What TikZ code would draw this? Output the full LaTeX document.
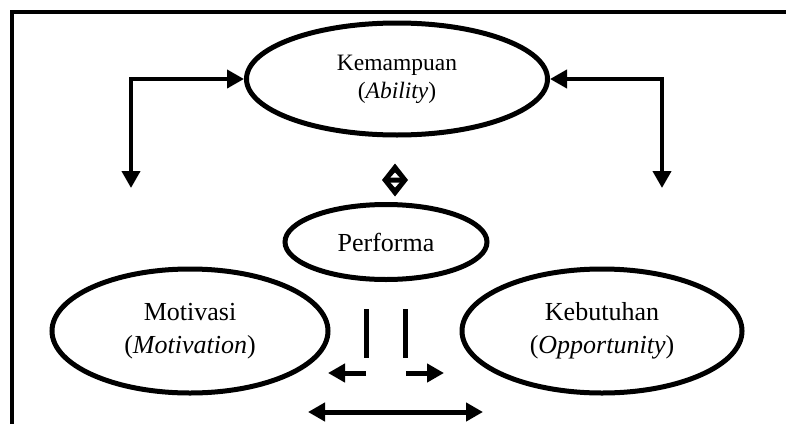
\documentclass[tikz,border=0pt]{standalone}
\usepackage{fontspec}
\setmainfont{Liberation Serif}
\usetikzlibrary{arrows.meta,shapes.geometric,calc}
\begin{document}
\begin{tikzpicture}[x=1pt,y=-1pt,
  ell/.style={draw, ellipse, line width=5pt, inner sep=0pt, align=center,
    font=\fontsize{26}{33}\selectfont},
  >={Triangle[length=17pt,width=18pt]},
  conn/.style={line width=4pt, line join=miter},
  bar/.style={line width=5pt},
]
\useasboundingbox (0,0) rectangle (786,423);
% frame
\draw[line width=4pt] (12,430) -- (12,12) -- (790,12);

% ellipses
\node[ell, minimum width=301pt, minimum height=112pt,
      font=\fontsize{23.5}{28}\selectfont] (kem) at (397,79)
  {Kemampuan\\(\textit{Ability})};
\node[ell, minimum width=202pt, minimum height=75pt] (perf) at (386,242) {Performa};
\node[ell, minimum width=276pt, minimum height=124pt] (mot) at (190,331)
  {Motivasi\\(\textit{Motivation})};
\node[ell, minimum width=280pt, minimum height=124pt] (keb) at (602,331)
  {Kebutuhan\\(\textit{Opportunity})};

% top connectors
\coordinate (lcorner) at (131,79);
\coordinate (lend) at (131,188);
\coordinate (rcorner) at (662,79);
\coordinate (rend) at (662,188);
\draw[conn, <->] (lend) -- (lcorner) -- (kem.west);
\draw[conn, <->] (rend) -- (rcorner) -- (kem.east);

% diamond symbol
\coordinate (dia) at (395,180);
\fill ($(dia)+(0,-16.5)$) -- ($(dia)+(13,0)$) -- ($(dia)+(0,16.5)$) -- ($(dia)+(-13,0)$) -- cycle;
\fill[white] ($(dia)+(0,-7.5)$) -- ($(dia)+(4.5,-2.5)$) -- ($(dia)+(-4.5,-2.5)$) -- cycle;
\fill[white] ($(dia)+(0,7.5)$) -- ($(dia)+(4.5,2.5)$) -- ($(dia)+(-4.5,2.5)$) -- cycle;

% middle bars and arrows
\coordinate (b1t) at (366,309);
\coordinate (b1b) at (366,358);
\coordinate (b2t) at (405,309);
\coordinate (b2b) at (405,358);
\draw[bar] (b1t) -- (b1b);
\draw[bar] (b2t) -- (b2b);
\coordinate (la) at (366,373);
\coordinate (lb) at (328,373);
\coordinate (ra) at (406,373);
\coordinate (rb) at (444,373);
\draw[bar, ->] (la) -- (lb);
\draw[bar, ->] (ra) -- (rb);
\coordinate (da) at (308,412);
\coordinate (db) at (483,412);
\draw[bar, <->] (da) -- (db);
\end{tikzpicture}
\end{document}
